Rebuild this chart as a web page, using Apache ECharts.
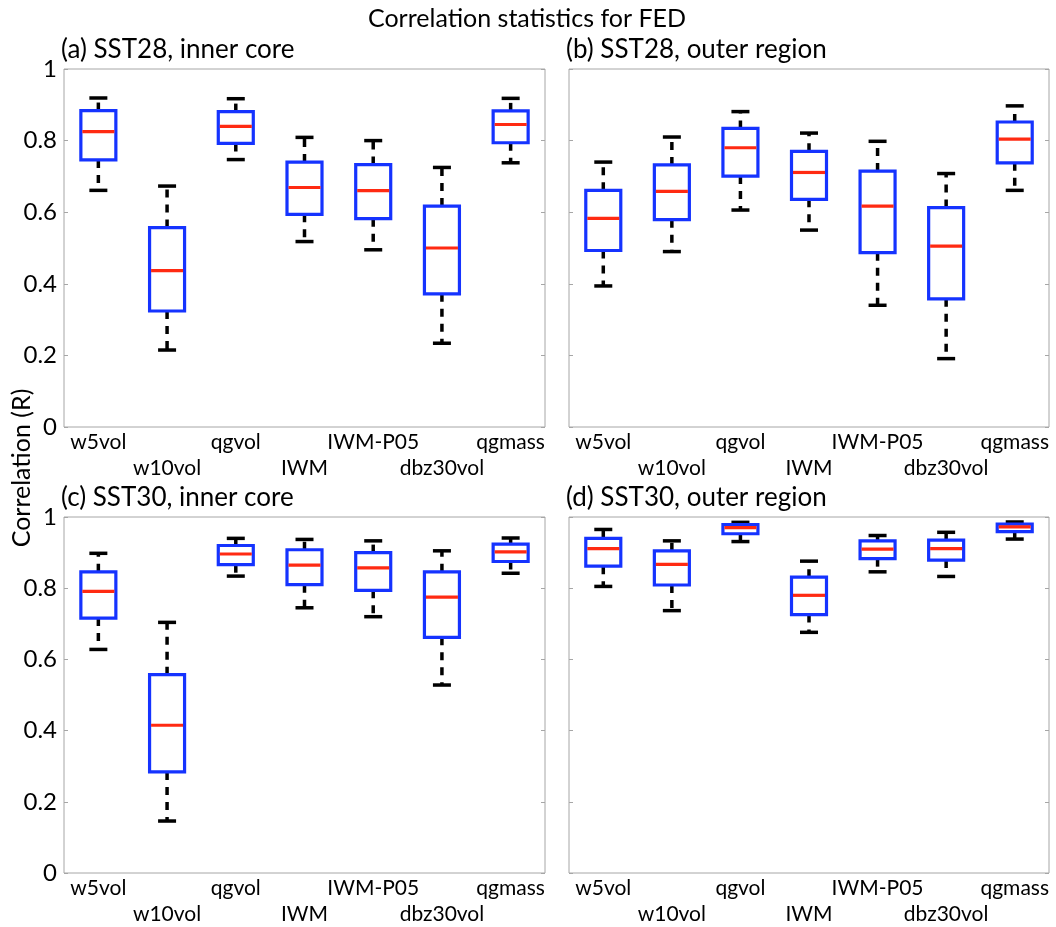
<!DOCTYPE html>
<html>
<head>
<meta charset="utf-8">
<title>Correlation statistics for FED</title>
<script src="https://cdn.jsdelivr.net/npm/echarts@6/dist/echarts.min.js"></script>
<style>
html,body{margin:0;padding:0;background:#fff;}
#main{width:1056px;height:927px;}
</style>
</head>
<body>
<div id="main"></div>
<script>
// categories on every panel
var categories=["w5vol","w10vol","qgvol","IWM","IWM-P05","dbz30vol","qgmass"];
var yTicks=[0,0.2,0.4,0.6,0.8,1];

// each row: [min, q1, median, q3, max]
var sst28Inner=[
	[0.661,0.746,0.825,0.884,0.919],
	[0.215,0.324,0.437,0.557,0.673],
	[0.747,0.792,0.840,0.881,0.917],
	[0.518,0.594,0.669,0.740,0.809],
	[0.495,0.582,0.660,0.733,0.800],
	[0.234,0.372,0.500,0.617,0.725],
	[0.738,0.794,0.845,0.883,0.918]
];
var sst28Outer=[
	[0.394,0.493,0.583,0.661,0.740],
	[0.490,0.579,0.658,0.732,0.810],
	[0.606,0.701,0.780,0.834,0.881],
	[0.550,0.636,0.711,0.770,0.821],
	[0.340,0.487,0.617,0.715,0.798],
	[0.191,0.358,0.505,0.613,0.708],
	[0.661,0.738,0.804,0.852,0.897]
];
var sst30Inner=[
	[0.628,0.716,0.791,0.846,0.898],
	[0.146,0.284,0.415,0.557,0.704],
	[0.834,0.866,0.896,0.920,0.940],
	[0.745,0.810,0.865,0.908,0.937],
	[0.720,0.794,0.857,0.900,0.933],
	[0.528,0.662,0.775,0.846,0.905],
	[0.842,0.875,0.902,0.924,0.941]
];
var sst30Outer=[
	[0.805,0.862,0.911,0.940,0.965],
	[0.737,0.809,0.867,0.905,0.933],
	[0.931,0.953,0.970,0.979,0.985],
	[0.676,0.726,0.780,0.831,0.876],
	[0.846,0.883,0.910,0.933,0.948],
	[0.833,0.879,0.911,0.935,0.957],
	[0.938,0.959,0.972,0.980,0.986]
];

var panels=[
	{name:"(a) SST28, inner core",data:sst28Inner,left:64,top:69,width:481,labels:true},
	{name:"(b) SST28, outer region",data:sst28Outer,left:569,top:69,width:480,labels:false},
	{name:"(c) SST30, inner core",data:sst30Inner,left:64,top:517,width:481,labels:true},
	{name:"(d) SST30, outer region",data:sst30Outer,left:569,top:517,width:480,labels:false}
];

var FONT="Lato";
var BLUE="#1533ff",RED="#ff2a12";

// draws one matlab-style box: dashed black whiskers, blue box, red median
function renderBox(params,api){
	var x=api.value(0);
	var pMin=api.coord([x,api.value(1)]);
	var pQ1=api.coord([x,api.value(2)]);
	var pMed=api.coord([x,api.value(3)]);
	var pQ3=api.coord([x,api.value(4)]);
	var pMax=api.coord([x,api.value(5)]);
	var cx=pMin[0];
	var half=17.5,cap=9;
	var dash={stroke:"#000",lineWidth:3.5,lineDash:[8,7]};
	var solid={stroke:"#000",lineWidth:3.5};
	return {type:"group",children:[
		{type:"line",shape:{x1:cx,y1:pQ3[1],x2:cx,y2:pMax[1]},style:dash},
		{type:"line",shape:{x1:cx,y1:pQ1[1],x2:cx,y2:pMin[1]},style:dash},
		{type:"line",shape:{x1:cx-cap,y1:pMax[1],x2:cx+cap,y2:pMax[1]},style:solid},
		{type:"line",shape:{x1:cx-cap,y1:pMin[1],x2:cx+cap,y2:pMin[1]},style:solid},
		{type:"rect",shape:{x:cx-half,y:pQ3[1],width:half*2,height:pQ1[1]-pQ3[1]},
			style:{fill:"#fff",stroke:BLUE,lineWidth:3.2}},
		{type:"line",shape:{x1:cx-half+1.5,y1:pMed[1],x2:cx+half-1.5,y2:pMed[1]},
			style:{stroke:RED,lineWidth:3.2}}
	]};
}

var option={
	backgroundColor:"#fff",
	animation:false,
	textStyle:{fontFamily:FONT,color:"#000"},
	title:[{
		text:"Correlation statistics for FED",left:522,top:1,textAlign:"center",
		textStyle:{fontFamily:FONT,fontSize:25,fontWeight:"normal",color:"#000"}
	}],
	graphic:[{
		type:"text",x:22,y:468,rotation:Math.PI/2,
		style:{text:"Correlation (R)",font:"25px "+FONT,fill:"#000",align:"center",verticalAlign:"middle"}
	}],
	grid:[],xAxis:[],yAxis:[],series:[]
};

panels.forEach(function(p,i){
	option.title.push({
		text:p.name,left:p.left-8,top:p.top-37,
		textStyle:{fontFamily:FONT,fontSize:26,fontWeight:"normal",color:"#000"}
	});
	option.grid.push({left:p.left,top:p.top,width:p.width,height:358,
		show:true,borderColor:"#a6a6a6",borderWidth:1,backgroundColor:"transparent"});
	option.xAxis.push({
		type:"category",gridIndex:i,data:categories,boundaryGap:true,
		axisLine:{show:false},axisTick:{show:false},splitLine:{show:false},
		axisLabel:{interval:0,margin:2,fontSize:21,lineHeight:26,color:"#000",fontFamily:FONT,
			formatter:function(v,idx){return idx%2?"\n"+v:v;}}
	});
	option.yAxis.push({
		type:"value",gridIndex:i,min:0,max:1,interval:0.2,position:"left",
		axisLine:{show:false},splitLine:{show:false},
		axisTick:{show:true,inside:true,length:4,lineStyle:{color:"#a6a6a6"}},
		axisLabel:{show:p.labels,fontSize:24,margin:7,color:"#000",fontFamily:FONT}
	});
	option.yAxis.push({
		type:"value",gridIndex:i,min:0,max:1,interval:0.2,position:"right",
		axisLine:{show:false},splitLine:{show:false},
		axisTick:{show:true,inside:true,length:4,lineStyle:{color:"#a6a6a6"}},
		axisLabel:{show:false}
	});
	option.series.push({
		type:"custom",xAxisIndex:i,yAxisIndex:i*2,
		renderItem:renderBox,
		encode:{x:0,y:[1,2,3,4,5]},
		data:p.data.map(function(r,k){return [k].concat(r);})
	});
});

var myChart=echarts.init(document.getElementById("main"),null,{renderer:"canvas"});
myChart.setOption(option);
</script>
</body>
</html>
